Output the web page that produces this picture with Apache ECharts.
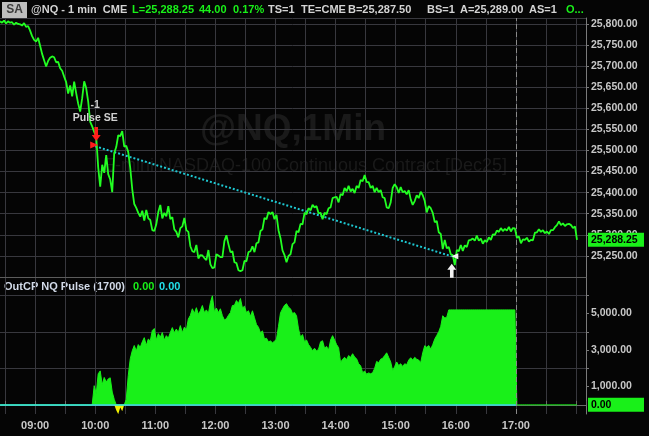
<!DOCTYPE html>
<html><head><meta charset="utf-8">
<script src="https://cdn.jsdelivr.net/npm/echarts@6/dist/echarts.min.js"></script>
<style>html,body{margin:0;padding:0;background:#050505;}#c{width:649px;height:436px;}</style>
</head><body><div id="c"></div>
<script>
// ---- data ----
const startMinute = 505;   // 08:25, first bar
const stepMinutes = 2;
const sessionEnd = 1020;   // 17:00 session break
const timeLabels = ['09:00','10:00','11:00','12:00','13:00','14:00','15:00','16:00','17:00'];
const timeLabelMinutes = [540,600,660,720,780,840,900,960,1020];
const priceValues = [
25806,25803,25808,25801,25806,25803,25804,25798,25803,25800,
25799,25796,25802,25793,25795,25784,25771,25762,25758,25767,
25748,25729,25714,25699,25712,25720,25723,25721,25709,25710,
25695,25689,25675,25662,25635,25654,25628,25663,25636,25611,
25592,25624,25664,25648,25616,25568,25557,25544,25533,25460,
25414,25466,25447,25489,25444,25431,25401,25494,25508,25536,
25534,25546,25509,25511,25496,25458,25408,25373,25364,25352,
25343,25357,25334,25359,25339,25335,25311,25309,25325,25354,
25371,25339,25352,25344,25368,25337,25342,25313,25307,25294,
25316,25320,25340,25311,25307,25273,25261,25259,25276,25244,
25252,25251,25245,25240,25264,25230,25221,25223,25254,25251,
25247,25247,25285,25299,25278,25259,25261,25235,25233,25216,
25214,25216,25238,25237,25259,25261,25273,25259,25280,25282,
25309,25313,25340,25337,25354,25349,25354,25337,25347,25311,
25292,25263,25252,25235,25250,25254,25278,25282,25309,25306,
25326,25325,25352,25349,25363,25358,25371,25365,25368,25351,
25352,25337,25352,25349,25363,25365,25387,25389,25390,25377,
25397,25394,25411,25403,25416,25403,25409,25399,25416,25411,
25430,25427,25442,25425,25425,25411,25416,25401,25411,25401,
25406,25389,25387,25365,25363,25377,25411,25420,25413,25399,
25413,25401,25404,25396,25406,25384,25371,25380,25394,25387,
25402,25394,25380,25353,25368,25363,25352,25330,25333,25306,
25302,25266,25288,25268,25271,25254,25252,25228,25264,25261,
25276,25262,25275,25271,25287,25288,25291,25286,25298,25286,
25291,25279,25287,25283,25294,25288,25301,25300,25310,25307,
25316,25309,25314,25310,25319,25308,25316,25315,25293,25296,
25280,25289,25288,25293,25284,25288,25287,25305,25306,25313,
25307,25311,25304,25308,25302,25311,25311,25318,25323,25332,
25323,25327,25321,25325,25326,25323,25316,25320,25288.25
];
const pulseValues = [
0,0,0,0,0,0,0,0,0,0, 0,0,0,0,0,0,0,0,0,0, 0,0,0,0,0,0,0,0,0,0, 0,0,0,0,0,0,0,0,0,0, 0,0,0,0,0,0,0,
1050,600,1700,1860,1100,1500,1250,1420,1480,700,
300,-300,-510,-150,-350,0,300,1600,2520,2960,
3250,2950,3300,3150,3450,3680,3250,3600,3500,4070,
4180,3550,3900,3700,3960,3550,3790,3650,3960,4230,
3950,4150,3950,4340,3950,4250,4100,4700,4900,5260,
5000,5320,4950,5150,5440,5050,5200,5000,5600,5970,
5100,5300,5050,5260,4880,4650,4710,4900,5050,5440,
5450,5710,5550,5820,5300,5400,5050,5150,4850,5150,
4770,4400,4250,3950,4050,3600,3650,3450,3500,3400,
3480,3600,4300,5040,5250,5450,5540,5350,5260,5000,
5050,4880,4160,3700,3850,3450,3550,3300,3150,2960,
3100,2950,3050,3450,3510,3100,3200,3000,3550,3790,
3550,3300,3130,2310,2500,2600,2480,2700,2600,2800,
2620,2520,2250,2140,1760,1850,1680,1750,1700,1760,
2000,2380,2300,2500,2550,2700,2850,2600,2350,1860,
2100,2350,2150,2250,2100,2250,2200,2450,2580,2450,
2600,2500,2450,2310,2850,3240,3150,3250,3050,3300,
3600,3800,4000,4300,4880,4750,4800,5200,5200,5200,
5200,5200,5200,5200,5200,5200,5200,5200,5200,5200,
5200,5200,5200,5200,5200,5200,5200,5200,5200,5200,
5200,5200,5200,5200,5200,5200,5200,5200,5200,5200,5200,
0,0,0,0,0,0,0,0,0,0, 0,0,0,0,0,0,0,0,0,0, 0,0,0,0,0,0,0,0,0,0,0
];
const tradeLine = [[600, 25510], [956, 25249]];       // short entry -> exit
const entryArrow = [601, 25539];
const entryMarker = [599, 25513];
const entryQtyText = [600, 25608];
const entryNameText = [600, 25576];
const exitArrow = [956, 25215];
const exitMarker = [959, 25249];
const pulseGridValues = [2000, 4000, 6000];
const pulseLabelValues = [1000, 3000, 5000];
const pulseTickValues = [1000, 2000, 3000, 4000, 5000, 6000];

// ---- chart ----
const FONT = '"Liberation Sans", Arial, sans-serif';
const GRID = '#38383e';
const AXT = '#c8c8c8';
const fmt2 = v => Number(v).toLocaleString('en-US', {minimumFractionDigits: 2, maximumFractionDigits: 2});
const tOf = i => startMinute + i * stepMinutes;

const priceData = priceValues.map((p, i) => [tOf(i), p]);
const pulsePos = pulseValues.map((v, i) => [tOf(i), Math.max(v, 0)]);
const pulseNeg = pulseValues.map((v, i) => [tOf(i), Math.min(v, 0)]);

const chart = echarts.init(document.getElementById('c'), null, {renderer: 'canvas', width: 649, height: 436});

const hdr = (x, text, fill) => ({type: 'text', x: x, y: 10, style: {text: text, fill: fill, font: 'bold 11px ' + FONT, verticalAlign: 'middle', textVerticalAlign: 'middle'}});

const xAxisBase = {
  type: 'value', min: 480, max: 1090, interval: 30,
  splitLine: {show: true, lineStyle: {color: GRID, width: 1}}
};

chart.setOption({
  backgroundColor: '#050505',
  animation: false,
  textStyle: {fontFamily: FONT},
  grid: [
    {left: -25, right: 63, top: 18, height: 259, outerBoundsMode: 'none', containLabel: false},
    {left: -25, right: 63, top: 277, height: 137, outerBoundsMode: 'none', containLabel: false}
  ],
  xAxis: [
    Object.assign({}, xAxisBase, {gridIndex: 0,
      axisLine: {show: true, lineStyle: {color: '#5c5c5c'}},
      axisTick: {show: false}, axisLabel: {show: false}}),
    Object.assign({}, xAxisBase, {gridIndex: 1,
      axisLine: {show: true, lineStyle: {color: '#6a6a6a'}},
      axisTick: {show: true, inside: true, length: 4, lineStyle: {color: '#6a6a6a'}},
      axisLabel: {show: true, color: AXT, fontSize: 11, fontWeight: 'bold', margin: 6,
        customValues: timeLabelMinutes,
        formatter: v => { const k = timeLabelMinutes.indexOf(v); return k >= 0 ? timeLabels[k] : ''; }}})
  ],
  yAxis: [
    {gridIndex: 0, type: 'value', position: 'right', min: 25200, max: 25814, interval: 50,
      axisLine: {show: true, lineStyle: {color: '#7a7a7a'}},
      axisTick: {show: true, length: 3, lineStyle: {color: '#7a7a7a'}},
      axisLabel: {showMinLabel: false, showMaxLabel: false, color: AXT, fontSize: 10.5, fontWeight: 'bold', margin: 5, formatter: fmt2},
      splitLine: {show: true, lineStyle: {color: GRID}}},
    {gridIndex: 1, type: 'value', position: 'right', min: -500, max: 7000,
      axisLine: {show: true, lineStyle: {color: '#7a7a7a'}},
      axisTick: {show: true, length: 3, customValues: pulseTickValues, lineStyle: {color: '#7a7a7a'}},
      axisLabel: {color: AXT, fontSize: 10.5, fontWeight: 'bold', margin: 5, customValues: pulseLabelValues,
        formatter: v => pulseLabelValues.indexOf(v) >= 0 ? fmt2(v) : ''},
      splitLine: {show: false}}
  ],
  graphic: [
    {type: 'text', x: 293, y: 130, z: -1, silent: true, style: {text: '@NQ,1Min', fill: '#1a1a1a', font: 'bold 37px ' + FONT, align: 'center', verticalAlign: 'middle', textAlign: 'center', textVerticalAlign: 'middle'}},
    {type: 'text', x: 305, y: 166, z: -1, silent: true, style: {text: 'E-mini NASDAQ-100 Continuous Contract [Dec25]', fill: '#1a1a1a', font: '18px ' + FONT, align: 'center', verticalAlign: 'middle', textAlign: 'center', textVerticalAlign: 'middle'}},
    {type: 'rect', shape: {x: 2, y: 2, width: 25, height: 16}, style: {fill: '#bdbdbd'}},
    {type: 'text', x: 14.5, y: 10, style: {text: 'SA', fill: '#3c3c3c', font: 'bold 12px ' + FONT, align: 'center', verticalAlign: 'middle', textAlign: 'center', textVerticalAlign: 'middle'}},
    hdr(31, '@NQ - 1 min  CME', '#d4d4d4'),
    hdr(132, 'L=25,288.25', '#19f019'),
    hdr(199, '44.00', '#19f019'),
    hdr(233, '0.17%', '#19f019'),
    hdr(268, 'TS=1', '#d4d4d4'),
    hdr(301, 'TE=CME', '#d4d4d4'),
    hdr(348, 'B=25,287.50', '#d4d4d4'),
    hdr(427, 'BS=1', '#d4d4d4'),
    hdr(460, 'A=25,289.00', '#d4d4d4'),
    hdr(529, 'AS=1', '#d4d4d4'),
    hdr(566, 'O...', '#19f019'),
    {type: 'text', x: 4, y: 287, style: {text: 'OutCP NQ Pulse (1700)', fill: '#d2dae8', font: 'bold 11px ' + FONT, verticalAlign: 'middle', textVerticalAlign: 'middle'}},
    {type: 'text', x: 133, y: 287, style: {text: '0.00', fill: '#19f019', font: 'bold 11px ' + FONT, verticalAlign: 'middle', textVerticalAlign: 'middle'}},
    {type: 'text', x: 159, y: 287, style: {text: '0.00', fill: '#22e0ea', font: 'bold 11px ' + FONT, verticalAlign: 'middle', textVerticalAlign: 'middle'}}
  ],
  series: [
    {
      name: 'price', type: 'line', xAxisIndex: 0, yAxisIndex: 0, data: priceData,
      showSymbol: false, symbol: 'none', z: 3,
      lineStyle: {color: '#22ff22', width: 1.8},
      endLabel: {show: true, formatter: p => fmt2(p.value[1]), color: '#000', backgroundColor: '#19f019',
        fontSize: 10.5, fontWeight: 'bold', padding: [2, 3, 1, 3], width: 50, offset: [3, 0]},
      markLine: {silent: true, symbol: 'none', z: 1, label: {show: false},
        lineStyle: {color: '#8a8a8a', type: [5, 3], width: 1},
        data: [{xAxis: sessionEnd}]},
      markPoint: {silent: true, data: [
        {coord: entryArrow, symbol: 'path://M3,0L7,0L7,8L10,8L5,14L0,8L3,8Z', symbolSize: [9, 14], itemStyle: {color: '#ff1c1c'}, label: {show: false}},
        {coord: entryMarker, symbol: 'triangle', symbolRotate: -90, symbolSize: [7, 8], itemStyle: {color: '#ff1c1c'}, label: {show: false}},
        {coord: entryQtyText, symbol: 'circle', symbolSize: 0, label: {show: true, position: 'inside', formatter: '-1', color: '#d0d0d0', fontSize: 10.5, fontWeight: 'bold'}},
        {coord: entryNameText, symbol: 'circle', symbolSize: 0, label: {show: true, position: 'inside', formatter: 'Pulse SE', color: '#d0d0d0', fontSize: 10.5, fontWeight: 'bold'}},
        {coord: exitArrow, symbol: 'path://M5,0L10,6L7,6L7,14L3,14L3,6L0,6Z', symbolSize: [9, 14], itemStyle: {color: '#f2f2f2'}, label: {show: false}},
        {coord: exitMarker, symbol: 'triangle', symbolRotate: 90, symbolSize: [6, 7], itemStyle: {color: '#f2f2f2'}, label: {show: false}}
      ]}
    },
    {
      name: 'trade', type: 'line', xAxisIndex: 0, yAxisIndex: 0, data: tradeLine,
      showSymbol: false, symbol: 'none', z: 2,
      lineStyle: {color: '#1ec8d2', width: 2, type: [2, 2]}
    },
    {
      name: 'gridlines', type: 'line', xAxisIndex: 1, yAxisIndex: 1, data: [], z: 0,
      markLine: {silent: true, symbol: 'none', z: 0, label: {show: false}, lineStyle: {color: GRID, type: 'solid', width: 1},
        data: pulseGridValues.map(v => ({yAxis: v}))}
    },
    {
      name: 'pulse', type: 'line', xAxisIndex: 1, yAxisIndex: 1, data: pulsePos,
      showSymbol: false, symbol: 'none', z: 3,
      lineStyle: {color: '#19f019', width: 1},
      areaStyle: {color: '#19f019', opacity: 1},
      endLabel: {show: true, formatter: p => fmt2(p.value[1]), color: '#000', backgroundColor: '#19f019',
        fontSize: 10.5, fontWeight: 'bold', padding: [2, 3, 1, 3], width: 50, offset: [3, 0]},
      markLine: {silent: true, symbol: 'none', z: 4, label: {show: false},
        data: [
          [{coord: [startMinute, 0], lineStyle: {color: '#3fe8ee', width: 1.5, type: 'solid'}}, {coord: [sessionEnd, 0]}],
          {xAxis: sessionEnd, lineStyle: {color: '#8a8a8a', type: [5, 3], width: 1}}
        ]}
    },
    {
      name: 'pulseNeg', type: 'line', xAxisIndex: 1, yAxisIndex: 1, data: pulseNeg,
      showSymbol: false, symbol: 'none', z: 3,
      lineStyle: {width: 0, color: '#f0f000'},
      areaStyle: {color: '#f0f000', opacity: 1}
    }
  ]
});
</script></body></html>
